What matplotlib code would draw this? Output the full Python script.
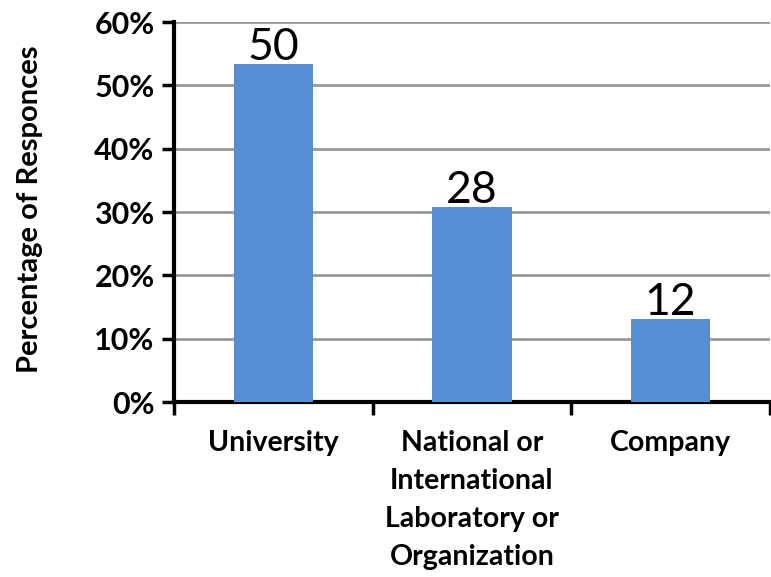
import matplotlib
matplotlib.use("Agg")
import matplotlib.pyplot as plt
from matplotlib.ticker import PercentFormatter, FixedLocator

categories = ["University", "National or\nInternational\nLaboratory or\nOrganization", "Company"]
percentages = [53.3, 30.8, 13.1]
counts = [50, 28, 12]
yticks = [0, 10, 20, 30, 40, 50, 60]

plt.rcParams['font.family'] = ['Lato', 'DejaVu Sans']

fig = plt.figure(figsize=(7.71, 5.77), dpi=100)
ax = fig.add_axes([174/771, 1-402/577, (770-174)/771, (402-22)/577])

x = list(range(len(categories)))
bars = ax.bar(x, percentages, width=0.4, color='#558ED5', zorder=3)
for b, c in zip(bars, counts):
    ax.text(b.get_x() + b.get_width()/2, b.get_height() - 0.6, str(c),
            ha='center', va='bottom', fontsize=32, color='black', zorder=4)

ax.set_ylim(0, 60)
ax.set_xlim(-0.5, 2.5)
ax.set_yticks(yticks)
ax.yaxis.set_major_formatter(PercentFormatter(decimals=0))
ax.yaxis.grid(True, color='#999999', linewidth=2, zorder=0)
ax.set_axisbelow(True)

ax.xaxis.set_major_locator(FixedLocator([-0.5, 0.5, 1.5, 2.5]))
ax.set_xticklabels([])
ax.xaxis.set_minor_locator(FixedLocator(x))
ax.set_xticklabels(categories, minor=True, fontsize=20.5, fontweight='bold', linespacing=1.58, va='top')
ax.tick_params(axis='x', which='major', length=9, width=2.5, direction='out')
ax.tick_params(axis='x', which='minor', length=0, pad=20)
ax.tick_params(axis='y', length=9, width=2.5, direction='out', labelsize=22, pad=5)
for lab in ax.get_yticklabels():
    lab.set_fontweight('bold')

for s in ['top', 'right']:
    ax.spines[s].set_visible(False)
for s in ['left', 'bottom']:
    ax.spines[s].set_linewidth(3)
    ax.spines[s].set_color('black')

fig.text(30/771, 1-209/577, "Percentage of Responces", rotation=90, ha='center', va='center',
         fontsize=21, fontweight='bold')

fig.savefig("out.png", dpi=100)
